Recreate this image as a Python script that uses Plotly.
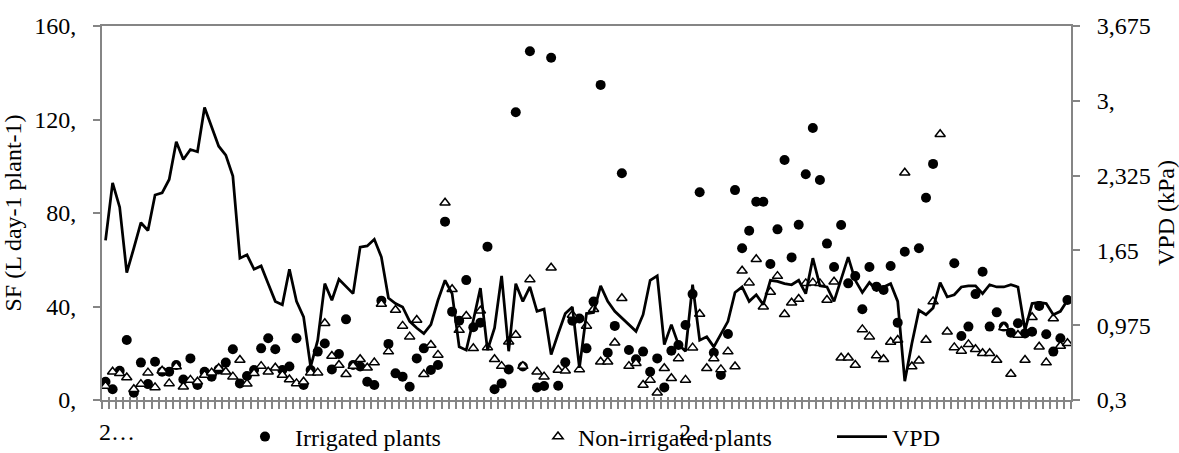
import plotly.graph_objects as go

# ---- data (index = day/category) ----
IRRIGATED = [
    7.8, 4.6, 12.5, 25.7, 3.1, 16.0, 6.8, 16.4, 12.1, 12.1,
    15.0, 8.8, 17.8, 6.4, 12.1, 10.0, 13.1, 16.0, 21.7, 7.1,
    10.3, 12.8, 22.1, 26.4, 21.7, 12.8, 14.3, 26.4, 6.4, 12.8,
    20.7, 24.2, 13.1, 19.7, 34.5, 15.0, 14.3, 7.8, 6.4, 42.5,
    24.0, 11.4, 10.0, 5.7, 17.8, 22.1, 12.8, 15.0, 76.3, 37.8,
    33.9, 51.3, 31.1, 33.1, 65.6, 4.6, 7.1, 13.1, 123.1, 14.3,
    149.2, 5.4, 6.0, 146.4, 6.1, 16.1, 33.9, 34.9, 22.1, 42.1,
    134.8, 20.2, 31.7, 97.0, 21.4, 17.4, 20.7, 12.1, 17.8, 5.4,
    21.1, 23.5, 32.1, 45.3, 88.9, None, 20.2, 10.7, 28.2, 89.8,
    64.9, 72.4, 84.8, 84.8, 58.2, 73.0, 102.7, 61.0, 75.0, 96.6,
    116.4, 94.1, 66.9, 56.9, 74.9, 49.9, 53.0, 38.8, 56.9, 48.5,
    47.1, 57.3, 33.1, 63.4, None, 64.9, 86.5, 101.0, None, None,
    58.5, 27.4, 31.4, 45.3, 54.9, 31.4, 37.5, 31.4, 28.8, 32.8,
    28.5, 29.2, 40.2, 28.1, 20.7, 26.4, 42.8,
]

NON_IRRIGATED = [
    6.0, 12.1, 11.4, 9.6, 4.6, 6.8, 11.7, 5.4, 12.5, 7.1,
    14.3, 5.7, 8.6, 7.8, 10.7, 11.7, 13.6, 12.1, 10.0, 17.1,
    6.9, 11.4, 14.5, 12.1, 13.8, 10.7, 8.8, 7.1, 7.8, 11.7,
    11.7, 32.8, 18.8, 15.0, 11.0, 14.5, 17.4, 13.8, 16.0, 41.1,
    20.7, 38.5, 31.7, 27.1, 34.2, 11.0, 23.5, 19.3, 84.4, 47.4,
    29.9, 35.9, 22.1, 38.2, 22.5, 17.4, 14.5, 24.9, 27.8, 14.5,
    51.6, 12.1, 10.0, 56.6, 12.8, 12.5, 36.4, 13.1, 31.7, 38.8,
    16.4, 16.4, 24.5, 43.5, 14.5, 15.7, 6.4, 8.6, 3.1, 13.6,
    9.3, 17.8, 8.6, 22.4, 36.8, 13.6, 17.8, 13.1, 20.7, 14.3,
    55.3, 50.2, 60.2, 39.9, 46.2, 53.0, 36.7, 41.6, 43.2, 49.9,
    50.2, 49.9, 42.8, 50.6, 18.1, 18.1, 15.0, 30.2, 27.1, 19.0,
    17.4, 24.8, 25.7, 97.2, 14.3, 16.8, 25.7, 42.1, 113.7, 29.2,
    22.5, 21.0, 23.8, 21.7, 20.0, 20.0, 17.1, 31.0, 11.1, 27.8,
    17.1, 35.4, 22.8, 16.0, 34.9, 23.1, 24.3,
]

VPD = [
    1.74, 2.26, 2.04, 1.45, 1.67, 1.90, 1.83, 2.15, 2.17, 2.29,
    2.63, 2.47, 2.56, 2.54, 2.94, 2.77, 2.59, 2.51, 2.32, 1.58,
    1.61, 1.48, 1.51, 1.35, 1.19, 1.16, 1.48, 1.19, 1.05, 0.60,
    0.84, 1.35, 1.20, 1.39, 1.32, 1.26, 1.68, 1.69, 1.75, 1.59,
    1.22, 1.17, 1.14, 1.01, 0.95, 0.90, 0.98, 1.20, 1.38, 1.26,
    0.78, 0.75, 1.02, 1.31, 0.75, 0.95, 1.42, 0.74, 1.35, 1.19,
    1.32, 1.10, 1.12, 0.71, 0.90, 1.08, 1.14, 0.59, 1.08, 1.09,
    1.33, 1.19, 1.10, 1.04, 0.98, 0.92, 1.07, 1.38, 1.42, 0.80,
    0.98, 0.80, 0.74, 1.34, 0.84, 0.87, 0.78, 0.89, 1.01, 1.27,
    1.32, 1.19, 1.25, 1.16, 1.38, 1.37, 1.35, 1.34, 1.38, 1.26,
    1.58, 1.33, 1.32, 1.19, 1.40, 1.59, 1.38, 1.27, 1.36, 1.29,
    1.32, 1.35, 1.19, 0.47, 0.81, 1.11, 1.07, 1.13, 1.36, 1.23,
    1.25, 1.32, 1.33, 1.33, 1.26, 1.34, 1.32, 1.32, 1.34, 1.32,
    0.93, 1.17, 1.18, 1.17, 1.07, 1.10, 1.20,
]

X_TICK_LABELS = {0: "2…", 82: "2…"}
SF_TICKS = [0, 40, 80, 120, 160]
SF_TICK_TEXT = ["0,", "40,", "80,", "120,", "160,"]
VPD_TICKS = [0.3, 0.975, 1.65, 2.325, 3.0, 3.675]
VPD_TICK_TEXT = ["0,3", "0,975", "1,65", "2,325", "3,", "3,675"]

assert len(IRRIGATED) == len(NON_IRRIGATED) == len(VPD)
n = len(VPD)
idx = list(range(n))

# category boundaries (Excel style ticks between categories)
bounds = [i - 0.5 for i in range(n + 1)]
bound_text = [X_TICK_LABELS.get(int(b + 0.5), "") for b in bounds]

FONT = "Liberation Serif, Times New Roman, serif"
AX = "#858585"

fig = go.Figure()
fig.add_trace(go.Scatter(
    x=idx, y=IRRIGATED, mode="markers", name="Irrigated plants",
    marker=dict(symbol="circle", size=10, color="black"),
    legend="legend", xaxis="x", yaxis="y",
))
fig.add_trace(go.Scatter(
    x=idx, y=NON_IRRIGATED, mode="markers", name="Non-irrigated plants",
    marker=dict(symbol="triangle-up", size=9, color="white",
                line=dict(color="black", width=1.5)),
    legend="legend2", xaxis="x", yaxis="y",
))
fig.add_trace(go.Scatter(
    x=idx, y=VPD, mode="lines", name="VPD",
    line=dict(color="black", width=2.75),
    legend="legend3", xaxis="x", yaxis="y2",
))
# carrier for the inner half of the crossing tick marks
fig.add_trace(go.Scatter(x=[0], y=[None], xaxis="x2", yaxis="y",
                         showlegend=False, hoverinfo="skip", mode="markers"))

xr = [-0.5, n - 0.5]
LEG_Y = 1 - 437 / 453
fig.update_layout(
    width=1179, height=453,
    paper_bgcolor="white", plot_bgcolor="white",
    margin=dict(l=102, r=108, t=26, b=53, autoexpand=False),
    font=dict(family=FONT, size=24, color="black"),
    xaxis=dict(
        range=xr, tickmode="array", tickvals=bounds, ticktext=bound_text,
        ticks="outside", ticklen=7, tickwidth=1.5, tickcolor=AX,
        ticklabelshift=15, ticklabelstandoff=2,
        showline=True, linecolor=AX, linewidth=2, mirror=True,
        showgrid=False, zeroline=False,
        tickfont=dict(family=FONT, size=24, color="black"),
    ),
    xaxis2=dict(
        range=xr, overlaying="x", anchor="y", side="bottom",
        tickmode="array", tickvals=bounds, ticks="inside", ticklen=3,
        tickwidth=1.5, tickcolor=AX, showticklabels=False,
        showline=False, showgrid=False, zeroline=False,
    ),
    yaxis=dict(
        range=[0, 160], tickmode="array", tickvals=SF_TICKS, ticktext=SF_TICK_TEXT,
        ticks="outside", ticklen=7, tickwidth=1.5, tickcolor=AX,
        ticklabelstandoff=12,
        showline=True, linecolor=AX, linewidth=2,
        showgrid=False, zeroline=False,
        title=dict(text="SF (L day-1 plant-1)", standoff=10,
                   font=dict(family=FONT, size=24, color="black")),
    ),
    yaxis2=dict(
        range=[0.3, 3.675], overlaying="y", side="right", anchor="x",
        tickmode="array", tickvals=VPD_TICKS, ticktext=VPD_TICK_TEXT,
        ticks="outside", ticklen=7, tickwidth=1.5, tickcolor=AX,
        ticklabelstandoff=12,
        showline=True, linecolor=AX, linewidth=2,
        showgrid=False, zeroline=False,
        title=dict(text="VPD (kPa)", standoff=12,
                   font=dict(family=FONT, size=24, color="black")),
    ),
    legend=dict(xref="container", yref="container", x=235 / 1179, y=LEG_Y,
                xanchor="left", yanchor="middle", orientation="h", itemwidth=50,
                bgcolor="rgba(0,0,0,0)", borderwidth=0,
                font=dict(family=FONT, size=24, color="black")),
    legend2=dict(xref="container", yref="container", x=538 / 1179, y=LEG_Y,
                 xanchor="left", yanchor="middle", orientation="h",
                 bgcolor="rgba(0,0,0,0)", borderwidth=0,
                 font=dict(family=FONT, size=24, color="black")),
    legend3=dict(xref="container", yref="container", x=832 / 1179, y=LEG_Y,
                 xanchor="left", yanchor="middle", orientation="h", itemwidth=50,
                 bgcolor="rgba(0,0,0,0)", borderwidth=0,
                 font=dict(family=FONT, size=24, color="black")),
)

fig.write_html("out.html")
